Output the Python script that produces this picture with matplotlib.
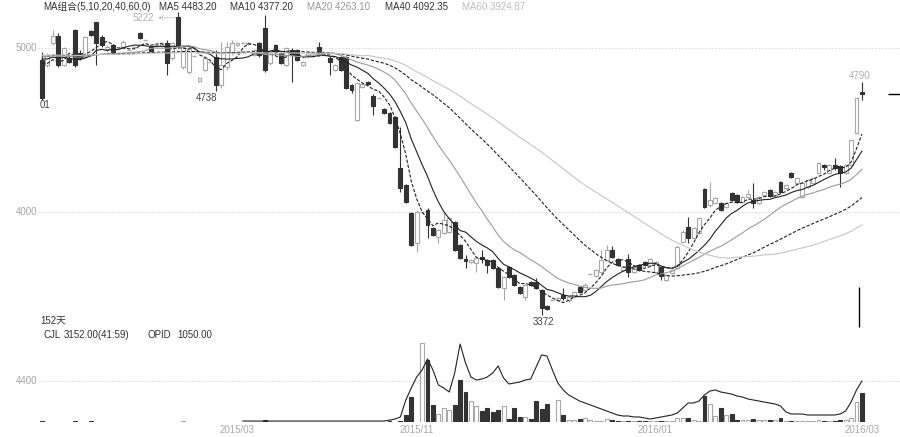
import numpy as np
import pandas as pd
import matplotlib
matplotlib.use('Agg')
from matplotlib import pyplot as plt

plt.rcParams['font.family'] = ['Liberation Sans', 'Noto Sans CJK SC']

# daily bars, 152 trading days
opens = [4927, 4897, 5031, 5073, 4897, 4939, 5110, 4970, 4945, 5104,
         5159, 5067, 4994, 5019, 4970, 5000, 4988, 5006, 5092, 5049,
         5006, 5019, 5012, 5031, 4939, 5190, 4884, 4854, 4952, 4799,
         4866, 4915, 4945, 4775, 4884, 4970, 5019, 5031, 5025, 4958,
         5031, 5122, 4909, 5019, 4970, 4897, 4988, 4988, 4897, 4958,
         4970, 5006, 4958, 4939, 4866, 4945, 4945, 4775, 4561, 4762,
         4793, 4708, 4695, 4628, 4604, 4580, 4269, 4165, 3994, 3811,
         4000, 4012, 3903, 3848, 3872, 3878, 3939, 3799, 3714, 3695,
         3689, 3726, 3708, 3708, 3659, 3537, 3665, 3616, 3543, 3482,
         3573, 3573, 3525, 3427, 3464, 3464, 3494, 3464, 3482, 3543,
         3525, 3622, 3610, 3634, 3708, 3768, 3714, 3647, 3714, 3634,
         3677, 3695, 3677, 3634, 3665, 3586, 3628, 3659, 3817, 3909,
         3842, 3872, 4140, 4043, 4055, 4055, 4031, 4116, 4104, 4061,
         4092, 4073, 4055, 4104, 4134, 4104, 4183, 4147, 4238, 4177,
         4092, 4153, 4177, 4238, 4287, 4238, 4287, 4281, 4238, 4287,
         4482, 4732]
closes = [4695, 4958, 5073, 4897, 5000, 4915, 4897, 4939, 5067, 5080,
          5031, 5019, 5006, 4976, 4970, 5037, 4988, 5006, 5061, 5049,
          4982, 5019, 5031, 4909, 5031, 5019, 5006, 5000, 4952, 4817,
          4939, 4915, 4775, 4897, 5006, 5031, 5031, 5031, 5031, 4988,
          4958, 4866, 4976, 4976, 4909, 5000, 4958, 4927, 4915, 4976,
          4970, 4970, 4958, 4915, 4897, 4866, 4756, 4744, 4787, 4781,
          4781, 4647, 4695, 4604, 4543, 4397, 4147, 4061, 3799, 4000,
          4000, 3921, 3860, 3890, 3951, 3964, 3768, 3720, 3701, 3708,
          3720, 3714, 3677, 3659, 3543, 3604, 3604, 3555, 3506, 3555,
          3555, 3537, 3415, 3409, 3464, 3476, 3476, 3482, 3512, 3512,
          3555, 3622, 3647, 3708, 3768, 3726, 3677, 3665, 3634, 3665,
          3647, 3677, 3714, 3695, 3610, 3616, 3647, 3787, 3878, 3842,
          3903, 3964, 4031, 4073, 4086, 4012, 4055, 4073, 4061, 4092,
          4110, 4055, 4092, 4122, 4098, 4122, 4122, 4165, 4214, 4207,
          4177, 4195, 4207, 4299, 4275, 4287, 4268, 4238, 4287, 4439,
          4695, 4720]
highs = [4976, 4970, 5110, 5092, 5006, 4952, 5116, 4988, 5073, 5110,
         5159, 5080, 5019, 5025, 4970, 5049, 4988, 5006, 5098, 5049,
         5012, 5019, 5037, 5049, 5037, 5222, 5019, 5012, 4952, 4823,
         4952, 4915, 4988, 5037, 5037, 5049, 5037, 5031, 5037, 4994,
         5037, 5202, 4988, 5025, 4976, 5006, 5000, 4994, 4921, 4982,
         4970, 5037, 4958, 4952, 4903, 4952, 4952, 4781, 4793, 4787,
         4799, 4720, 4695, 4634, 4610, 4586, 4519, 4171, 4000, 4012,
         4000, 4025, 3909, 3897, 3994, 3970, 3945, 3805, 3738, 3714,
         3726, 3768, 3714, 3714, 3665, 3610, 3671, 3622, 3549, 3561,
         3579, 3598, 3531, 3433, 3464, 3482, 3537, 3488, 3518, 3549,
         3567, 3622, 3653, 3768, 3799, 3793, 3720, 3671, 3744, 3671,
         3683, 3701, 3720, 3701, 3671, 3622, 3653, 3799, 3890, 3970,
         3909, 3970, 4147, 4183, 4092, 4061, 4061, 4122, 4110, 4098,
         4134, 4177, 4098, 4128, 4140, 4128, 4189, 4171, 4244, 4214,
         4183, 4201, 4214, 4305, 4293, 4293, 4329, 4287, 4293, 4445,
         4701, 4790]
lows = [4683, 4884, 5019, 4884, 4891, 4909, 4884, 4927, 4939, 5073,
        4897, 5006, 4976, 4970, 4970, 4994, 4988, 5006, 5055, 5049,
        4976, 5019, 5006, 4836, 4927, 5000, 4872, 4842, 4952, 4793,
        4860, 4915, 4738, 4756, 4866, 4958, 5012, 5031, 5019, 4952,
        4945, 4854, 4897, 4964, 4903, 4891, 4793, 4921, 4891, 4952,
        4970, 4958, 4958, 4836, 4860, 4860, 4750, 4726, 4555, 4756,
        4775, 4592, 4695, 4598, 4537, 4391, 4122, 4055, 3793, 3756,
        4000, 3842, 3854, 3811, 3866, 3872, 3762, 3714, 3659, 3689,
        3634, 3689, 3628, 3653, 3537, 3464, 3598, 3549, 3500, 3464,
        3549, 3531, 3372, 3403, 3464, 3458, 3464, 3451, 3476, 3506,
        3518, 3622, 3604, 3628, 3701, 3720, 3671, 3640, 3604, 3628,
        3640, 3671, 3671, 3628, 3586, 3580, 3622, 3653, 3811, 3811,
        3836, 3866, 4025, 4031, 4049, 4006, 4025, 4067, 4055, 4055,
        4086, 4025, 4049, 4098, 4092, 4098, 4116, 4140, 4207, 4171,
        4086, 4147, 4171, 4232, 4256, 4232, 4256, 4153, 4232, 4281,
        4476, 4683]
volumes = [60, 0, 0, 0, 0, 0, 60, 0, 0, 60,
           0, 0, 0, 0, 0, 0, 0, 0, 0, 0,
           0, 0, 0, 0, 0, 0, 60, 0, 0, 0,
           0, 0, 0, 0, 0, 0, 0, 0, 0, 0,
           0, 220, 0, 0, 0, 0, 0, 0, 0, 0,
           0, 0, 0, 0, 0, 0, 0, 0, 0, 0,
           0, 0, 0, 0, 110, 0, 100, 750, 2680, 0,
           8480, 6650, 1820, 860, 1500, 1290, 1820, 4510, 3220, 2250,
           1720, 1180, 1500, 1070, 1290, 1720, 320, 1500, 540, 540,
           320, 2250, 1400, 1930, 0, 2360, 750, 215, 215, 320,
           430, 215, 110, 100, 320, 215, 60, 60, 60, 60,
           60, 60, 100, 100, 100, 60, 60, 430, 430, 430,
           215, 110, 2790, 1930, 640, 1500, 750, 860, 215, 215,
           215, 320, 215, 215, 215, 215, 430, 110, 110, 110,
           110, 110, 110, 215, 110, 110, 110, 215, 215, 430,
           2150, 3152]
open_interest = [np.nan] * 37 + [100] * 27 + [
    200, 320, 540, 2360, 3650, 4830, 5580, 6760, 5580, 3970,
    3650, 3220, 5260, 8370, 6330, 4830, 4500, 4610, 4830, 5260,
    6010, 4720, 4080, 4185, 4290, 4500, 4610, 5900, 7190, 7080,
    5580, 4185, 3430, 2900, 2575, 2250, 2040, 1825, 1610, 1395,
    1180, 965, 750, 645, 645, 540, 540, 430, 320, 430,
    540, 645, 750, 965, 1500, 2040, 2040, 2250, 2900, 3325,
    3430, 3220, 3110, 3000, 2790, 2680, 2470, 2360, 2250, 2145,
    2040, 1930, 1715, 1075, 860, 860, 860, 750, 750, 750,
    750, 750, 750, 860, 1180, 2145, 3430, 4400]

prior_close = 4960  # level the averages carry in from before the window
ma_periods = [5, 10, 20, 40, 60]
ma_last = ['4483.20', '4377.20', '4263.10', '4092.35', '3924.87']
date_labels = ['2015/03', '2015/11', '2016/01', '2016/03']
date_bars = [36, 69, 113, 151]
price_grid = [5000, 4000]
vol_grid = [4400]

W, H = 900, 437
DARK = '#333333'
LIGHT = '#a8a8a8'
ma_colors = ['#222222', '#222222', '#9c9c9c', '#222222', '#c6c6c6']
ma_styles = [(0, (3, 1.5)), '-', '-', (0, (3, 1.5)), '-']
label_colors = ['#333333', '#333333', '#999999', '#333333', '#bdbdbd']
label_x = [159, 230, 307, 385, 462]

fig = plt.figure(figsize=(9, 4.37), dpi=100)


def px_axes(top, bottom):
    return fig.add_axes([0, 1 - bottom / H, 1, (bottom - top) / H])


def fig_text(x, y, s, **kw):
    kw.setdefault('fontsize', 7)
    kw.setdefault('va', 'center')
    fig.text(x / W, 1 - y / H, s, **kw)


ax = px_axes(0, 330)
ax_vol = px_axes(330, 422)

n = len(closes)
x = np.arange(n)
o = np.array(opens, float)
c = np.array(closes, float)
hi_arr = np.array(highs, float)
lo_arr = np.array(lows, float)
up = c >= o

bar_px = 5.43
x0 = 42
xlim = (-x0 / bar_px, (W - x0) / bar_px)
for a in (ax, ax_vol):
    a.set_xlim(*xlim)
    a.axis('off')
ax.set_ylim(5293 - 6.098 * 330, 5293)
ax_vol.set_ylim(0, 92 * 107.3)

# grid + left labels
ax.hlines(price_grid, -0.7, xlim[1], colors='#d6d6d6', linestyles=(0, (2, 2)), lw=0.6, zorder=0)
for p in price_grid:
    ax.text(-0.9, p, str(p), ha='right', va='center', fontsize=7, color='#a6a6a6')
ax_vol.hlines(vol_grid, -0.7, xlim[1], colors='#d6d6d6', linestyles=(0, (2, 2)), lw=0.6, zorder=0)
for v in vol_grid:
    ax_vol.text(-0.9, v, str(v), ha='right', va='center', fontsize=7, color='#a6a6a6')

# candles
for i in range(n):
    col = LIGHT if up[i] else DARK
    ax.vlines(i, lo_arr[i], hi_arr[i], color=col, lw=0.8, zorder=2)
    b_lo, b_hi = min(o[i], c[i]), max(o[i], c[i])
    if b_hi - b_lo < 3:
        ax.hlines((b_lo + b_hi) / 2, i - 0.37, i + 0.37, color=col, lw=1.0, zorder=3)
    else:
        ax.bar(i, b_hi - b_lo, bottom=b_lo, width=0.72,
               facecolor='white' if up[i] else DARK, edgecolor=col, lw=0.8, zorder=3)

# moving averages
close_ext = pd.Series([prior_close] * 59 + closes, dtype=float)
for per, col, ls in zip(ma_periods, ma_colors, ma_styles):
    ma = close_ext.rolling(per).mean().to_numpy()[59:]
    ax.plot(x, ma, color=col, lw=0.8, ls=ls, zorder=4)

# extreme labels
i_hi = int(np.argmax(hi_arr))
i_lo = int(np.argmin(lo_arr))
ax.annotate(f'{highs[i_hi]}', xy=(i_hi - 0.3, highs[i_hi] - 37), xytext=(-33, 0),
            textcoords='offset pixels', ha='center', va='center', fontsize=7, color='#b0b0b0',
            arrowprops=dict(arrowstyle='<-', ls=':', color='#b0b0b0', lw=0.7,
                            shrinkA=1, shrinkB=0))
ax.annotate(f'{lows[i_lo]}', xy=(i_lo, lows[i_lo]), xytext=(2, -7), textcoords='offset pixels',
            ha='center', va='center', fontsize=7, color='#444444')
ax.annotate(f'{lows[32]}', xy=(32, lows[32]), xytext=(-9, -7), textcoords='offset pixels',
            ha='center', va='center', fontsize=7, color='#444444')
ax.annotate(f'{highs[-1]}', xy=(n - 1, highs[-1]), xytext=(-2, 6), textcoords='offset pixels',
            ha='center', va='center', fontsize=7, color='#b0b0b0')
ax.annotate('01', xy=(0, lows[0]), xytext=(3, -5), textcoords='offset pixels',
            ha='center', va='center', fontsize=7, color='#444444')

# last price marks
ax.vlines(n - 1.6, 3300, 3545, color='black', lw=1.0)
ax.hlines(closes[-1], n + 3.8, xlim[1], color='black', lw=1.0)

# volume + open interest
for i in range(n):
    if volumes[i] <= 0:
        continue
    col = LIGHT if up[i] else DARK
    ax_vol.bar(i, volumes[i], width=0.72, facecolor='white' if up[i] else DARK,
               edgecolor=col, lw=0.8, zorder=2)
ax_vol.plot(x, open_interest, color='#222222', lw=0.8, zorder=3)

for lab, p in zip(date_labels, date_bars):
    ax_vol.text(p, -8 / 92, lab, transform=ax_vol.get_xaxis_transform(), ha='center', va='center',
                fontsize=7, color='#aaaaaa', clip_on=False)

# header texts
fig_text(43, 7, 'MA组合(5,10,20,40,60,0)', color='#333333')
for per, val, col, lx in zip(ma_periods, ma_last, label_colors, label_x):
    fig_text(lx, 7, f'MA{per} {val}', color=col)
fig_text(40, 321, '152天', color='#333333')
fig_text(43, 335, 'CJL', color='#333333')
fig_text(64, 335, f'{volumes[-1]:.2f}(41:59)', color='#333333')
fig_text(147, 335, 'OPID', color='#333333')
fig_text(177, 335, '1050.00', color='#333333')

fig.savefig('out.png', dpi=100, facecolor='white')
